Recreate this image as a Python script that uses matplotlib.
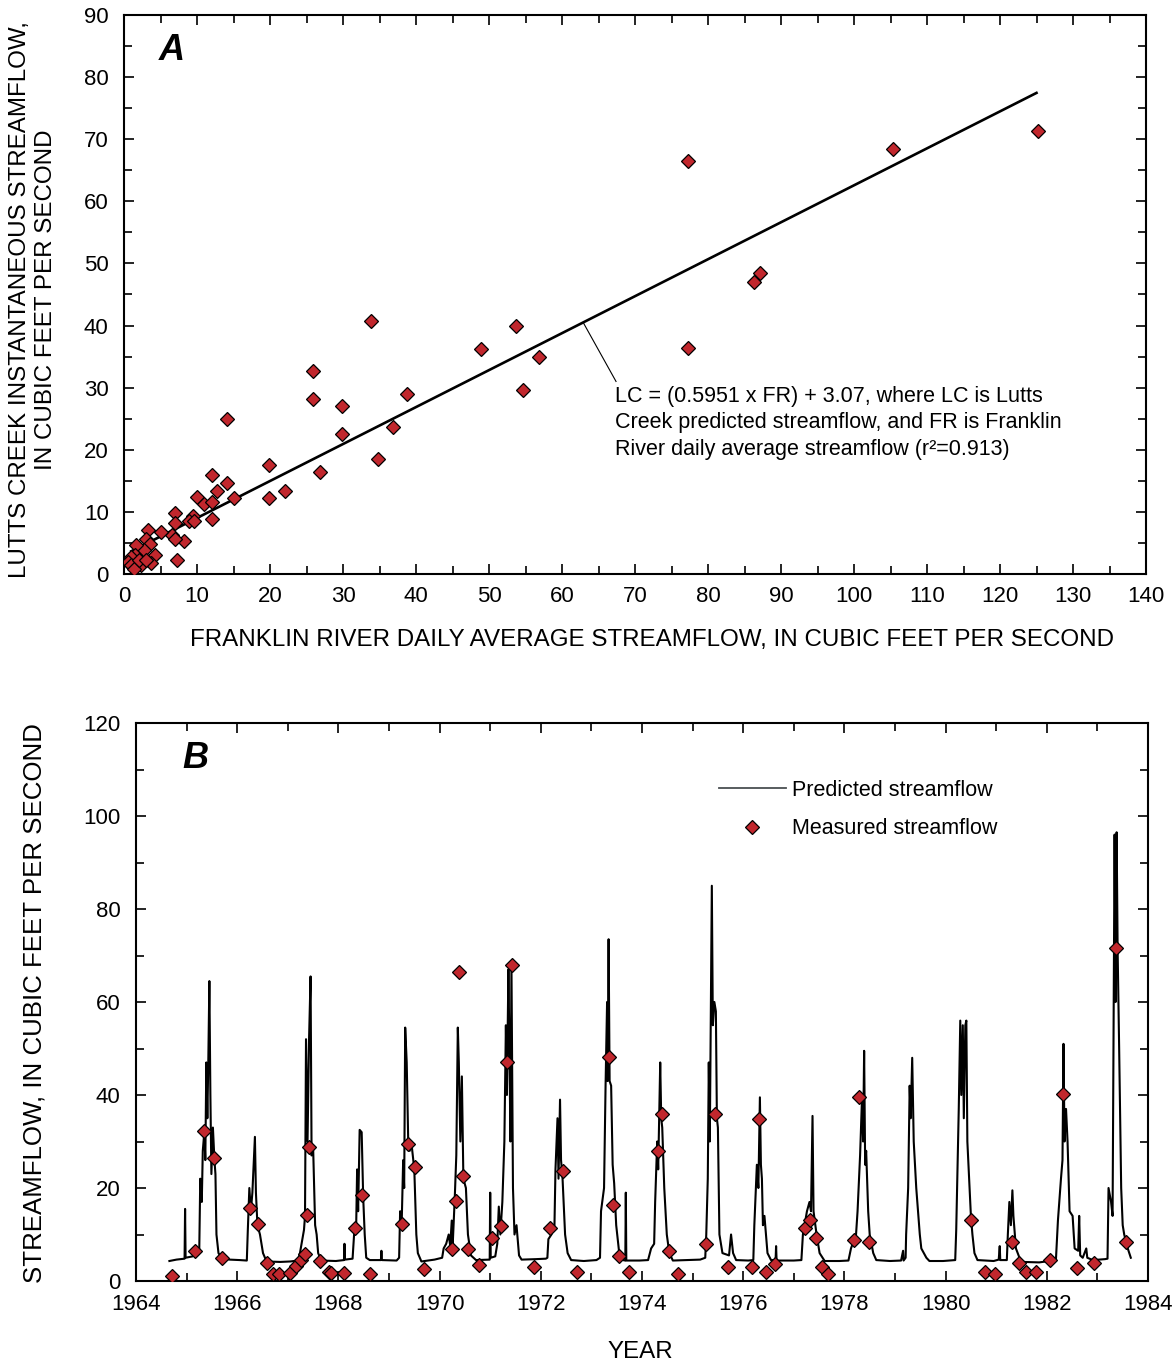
import matplotlib
matplotlib.use('Agg')
import matplotlib.pyplot as plt
from matplotlib.ticker import MultipleLocator
from matplotlib.lines import Line2D

plt.rcParams['font.family'] = ['Liberation Sans', 'DejaVu Sans']

RED = '#C1272D'

# ---- panel A: Franklin River daily mean vs Lutts Creek instantaneous (cfs)
scatter_pts = [
    (33.9, 40.8), (53.75, 40.0), (48.85, 36.3), (56.8, 34.9), (54.7, 29.7),
    (25.9, 32.7), (25.9, 28.2), (29.9, 27.1), (29.9, 22.6), (38.75, 28.9),
    (36.9, 23.7), (34.8, 18.5), (26.8, 16.4), (19.8, 17.5), (19.8, 12.3),
    (22.0, 13.4), (14.1, 24.9), (12.0, 16.0), (14.1, 14.6), (12.8, 13.4),
    (15.0, 12.3), (10.0, 12.4), (11.0, 11.2), (12.0, 11.6), (12.0, 8.9),
    (9.4, 9.4), (8.85, 8.6), (9.6, 8.5), (8.2, 5.3), (7.0, 9.8),
    (7.0, 8.2), (6.6, 6.2), (7.0, 5.7), (7.3, 2.3), (5.05, 6.8),
    (3.3, 7.1), (3.0, 5.6), (3.5, 4.9), (2.7, 3.8), (4.3, 3.0),
    (3.75, 1.7), (2.3, 1.5), (1.6, 4.6), (1.5, 3.1), (0.9, 2.7),
    (0.5, 1.9), (0.9, 1.5), (1.4, 0.8), (2.1, 2.2), (3.0, 2.2),
    (77.3, 66.5), (105.3, 68.4), (125.2, 71.3), (86.3, 47.0), (87.1, 48.5),
    (77.3, 36.4),
]
fit_slope = 0.5951
fit_icept = 3.07
fit_range = [1.0, 125.0]

flow_1965 = [(1964.66, 4.3), (1964.80, 4.6), (1964.96, 4.8), (1964.97, 15.5), (1964.98, 5.0),
             (1965.12, 5.3), (1965.25, 6.5), (1965.27, 22), (1965.30, 17), (1965.32, 28),
             (1965.35, 32), (1965.37, 26), (1965.39, 47), (1965.41, 35), (1965.43, 48),
             (1965.45, 64.5), (1965.47, 40), (1965.49, 23), (1965.52, 33), (1965.55, 26),
             (1965.57, 23), (1965.59, 10), (1965.63, 6), (1965.69, 5), (1965.85, 4.6)]
flow_1966 = [(1966.05, 4.5), (1966.19, 4.4), (1966.21, 11), (1966.24, 20), (1966.27, 15),
             (1966.30, 19), (1966.35, 31), (1966.37, 19), (1966.40, 12), (1966.45, 10),
             (1966.51, 6), (1966.58, 4.2), (1966.85, 4.1)]
flow_1967 = [(1967.05, 4.2), (1967.20, 4.4), (1967.24, 6), (1967.32, 11), (1967.34, 14),
             (1967.36, 52), (1967.39, 30), (1967.42, 52), (1967.45, 65.5), (1967.47, 27),
             (1967.50, 29), (1967.54, 12), (1967.57, 10), (1967.60, 6), (1967.66, 4.4),
             (1967.95, 4.3), (1968.11, 4.5), (1968.12, 8), (1968.13, 4.6)]
flow_1968 = [(1968.28, 4.8), (1968.31, 10), (1968.35, 11), (1968.37, 24), (1968.39, 15),
             (1968.42, 32.5), (1968.46, 32), (1968.49, 18), (1968.52, 10), (1968.55, 5),
             (1968.62, 4.5), (1968.84, 4.5), (1968.85, 6.5), (1968.86, 4.5), (1969.15, 4.4)]
flow_1969 = [(1969.20, 5), (1969.22, 15), (1969.25, 12), (1969.28, 26), (1969.30, 20),
             (1969.32, 54.5), (1969.35, 47), (1969.38, 30), (1969.41, 28), (1969.44, 30),
             (1969.50, 24), (1969.54, 10), (1969.57, 6), (1969.64, 4.2), (1969.90, 4.6)]
flow_1970 = [(1970.05, 5), (1970.08, 7), (1970.13, 8), (1970.18, 10), (1970.21, 7.5),
             (1970.24, 13), (1970.26, 8), (1970.30, 18), (1970.33, 27), (1970.36, 54.5),
             (1970.38, 47), (1970.41, 30), (1970.44, 44), (1970.47, 22), (1970.52, 20),
             (1970.56, 10), (1970.62, 5.5), (1970.72, 4.5), (1970.99, 4.6), (1971.00, 19),
             (1971.01, 5)]
flow_1971 = [(1971.10, 5.3), (1971.14, 8), (1971.17, 16), (1971.20, 10), (1971.24, 17),
             (1971.28, 30), (1971.31, 55), (1971.33, 40), (1971.36, 67), (1971.38, 50),
             (1971.40, 30), (1971.42, 68), (1971.45, 20), (1971.48, 10), (1971.52, 12),
             (1971.57, 5.5), (1971.62, 4.6), (1971.90, 4.7)]
flow_1972 = [(1972.10, 4.8), (1972.13, 5), (1972.15, 9), (1972.21, 10), (1972.27, 12),
             (1972.29, 24), (1972.33, 35), (1972.35, 22), (1972.38, 39), (1972.40, 26),
             (1972.43, 22), (1972.48, 10), (1972.53, 6), (1972.60, 4.5), (1972.85, 4.3)]
flow_1973 = [(1973.10, 4.5), (1973.17, 5), (1973.19, 15), (1973.25, 20), (1973.28, 42),
             (1973.31, 60), (1973.32, 43), (1973.34, 73.5), (1973.36, 43), (1973.39, 42),
             (1973.42, 25), (1973.45, 21), (1973.49, 12), (1973.55, 6), (1973.62, 4.5),
             (1973.67, 4.4), (1973.68, 19), (1973.69, 4.4), (1973.95, 4.4)]
flow_1974 = [(1974.12, 4.5), (1974.18, 7), (1974.24, 8), (1974.26, 17), (1974.30, 30),
             (1974.32, 24), (1974.36, 47), (1974.38, 35), (1974.40, 33), (1974.44, 20),
             (1974.49, 10), (1974.54, 6), (1974.61, 4.4), (1974.90, 4.5)]
flow_1975 = [(1975.15, 4.6), (1975.25, 5), (1975.27, 10), (1975.30, 22), (1975.32, 47),
             (1975.34, 30), (1975.38, 85), (1975.40, 55), (1975.43, 60), (1975.46, 58),
             (1975.48, 35), (1975.50, 33), (1975.53, 10), (1975.59, 6), (1975.72, 5.5),
             (1975.76, 10), (1975.80, 6), (1975.86, 4.5), (1976.10, 4.4)]
flow_1976 = [(1976.20, 4.5), (1976.22, 12), (1976.27, 25), (1976.30, 20), (1976.33, 39.5),
             (1976.35, 25), (1976.37, 22), (1976.39, 12), (1976.42, 14), (1976.48, 6),
             (1976.55, 4.5), (1976.64, 4.5), (1976.65, 7.5), (1976.66, 4.4), (1977.00, 4.4)]
flow_1977 = [(1977.15, 4.5), (1977.18, 10), (1977.26, 15), (1977.31, 17), (1977.34, 15),
             (1977.37, 35.5), (1977.39, 15), (1977.45, 10), (1977.51, 6), (1977.61, 4.3),
             (1977.90, 4.3)]
flow_1978 = [(1978.08, 4.4), (1978.13, 7), (1978.23, 10), (1978.26, 15), (1978.31, 27),
             (1978.35, 40), (1978.37, 30), (1978.39, 49.5), (1978.41, 25), (1978.43, 28),
             (1978.47, 15), (1978.50, 10), (1978.57, 6), (1978.63, 4.5), (1978.90, 4.3)]
flow_1979 = [(1979.12, 4.4), (1979.16, 6.5), (1979.17, 4.4), (1979.21, 5), (1979.22, 10),
             (1979.26, 20), (1979.29, 42), (1979.31, 35), (1979.34, 48), (1979.37, 30),
             (1979.42, 20), (1979.49, 10), (1979.52, 7), (1979.62, 5), (1979.68, 4.3),
             (1979.95, 4.3)]
flow_1980 = [(1980.19, 4.5), (1980.21, 11), (1980.26, 37), (1980.29, 56), (1980.31, 40),
             (1980.34, 55), (1980.36, 35), (1980.39, 55), (1980.41, 56), (1980.43, 30),
             (1980.50, 14), (1980.53, 10), (1980.57, 6), (1980.63, 4.5), (1980.95, 4.3),
             (1981.05, 4.6), (1981.07, 7.5), (1981.08, 4.5)]
flow_1981 = [(1981.21, 4.5), (1981.23, 10), (1981.26, 17), (1981.29, 12), (1981.32, 19.5),
             (1981.34, 14), (1981.39, 7), (1981.46, 5), (1981.53, 4.1), (1981.85, 4.0)]
flow_1982 = [(1982.18, 4.5), (1982.22, 13), (1982.28, 22), (1982.31, 26), (1982.33, 51),
             (1982.35, 30), (1982.38, 37), (1982.41, 30), (1982.45, 15), (1982.51, 14),
             (1982.55, 7), (1982.62, 6.5), (1982.64, 14), (1982.66, 5.5), (1982.71, 5),
             (1982.78, 7), (1982.80, 5), (1982.91, 4.5), (1983.15, 4.7)]
flow_1983 = [(1983.20, 4.8), (1983.22, 20), (1983.27, 17), (1983.30, 14), (1983.32, 55),
             (1983.34, 96), (1983.36, 60), (1983.38, 96.5), (1983.40, 71), (1983.43, 50),
             (1983.47, 20), (1983.50, 12), (1983.53, 10), (1983.60, 7), (1983.66, 5)]

measured = [
    (1964.72, 1.1), (1965.16, 6.4), (1965.35, 32.3), (1965.55, 26.4), (1965.69, 5.0),
    (1966.26, 15.7), (1966.41, 12.3), (1966.59, 3.9), (1966.71, 1.4), (1966.83, 1.4),
    (1967.05, 1.8), (1967.16, 3.2), (1967.26, 4.6), (1967.34, 5.9), (1967.37, 14.3),
    (1967.41, 28.9), (1967.64, 4.4), (1967.81, 1.9), (1967.85, 1.8), (1968.12, 1.8),
    (1968.32, 11.3), (1968.47, 18.6), (1968.62, 1.4), (1969.26, 12.3), (1969.38, 29.4),
    (1969.51, 24.5), (1969.70, 2.6), (1970.24, 6.8), (1970.33, 17.1), (1970.38, 66.5),
    (1970.47, 22.6), (1970.57, 6.8), (1970.77, 3.4), (1971.04, 9.3), (1971.22, 11.8),
    (1971.34, 47.1), (1971.43, 68.0), (1971.86, 3.1), (1972.19, 11.3), (1972.44, 23.6),
    (1972.71, 2.0), (1973.34, 48.1), (1973.43, 16.3), (1973.54, 5.4), (1973.74, 2.0),
    (1974.31, 28.0), (1974.39, 35.9), (1974.53, 6.4), (1974.72, 1.4), (1975.26, 7.9),
    (1975.45, 35.9), (1975.69, 3.1), (1976.17, 3.1), (1976.32, 34.9), (1976.45, 2.0),
    (1976.62, 3.6), (1977.22, 11.4), (1977.32, 13.2), (1977.43, 9.3), (1977.55, 3.1),
    (1977.67, 1.4), (1978.19, 8.9), (1978.28, 39.6), (1978.48, 8.4), (1980.51, 13.2),
    (1980.78, 2.0), (1980.97, 1.4), (1981.31, 8.4), (1981.46, 3.9), (1981.59, 2.0),
    (1981.79, 2.0), (1982.07, 4.5), (1982.33, 40.2), (1982.60, 2.9), (1982.94, 3.9),
    (1983.37, 71.6), (1983.57, 8.4),
]

pred = (flow_1965 + flow_1966 + flow_1967 + flow_1968 + flow_1969 + flow_1970 +
        flow_1971 + flow_1972 + flow_1973 + flow_1974 + flow_1975 + flow_1976 +
        flow_1977 + flow_1978 + flow_1979 + flow_1980 + flow_1981 + flow_1982 +
        flow_1983)


def style_axis(ax, xmaj, xmin, ymaj, ymin):
    ax.xaxis.set_major_locator(MultipleLocator(xmaj))
    ax.xaxis.set_minor_locator(MultipleLocator(xmin))
    ax.yaxis.set_major_locator(MultipleLocator(ymaj))
    ax.yaxis.set_minor_locator(MultipleLocator(ymin))
    ax.tick_params(which='both', direction='in', top=True, right=True, width=1.2)
    ax.tick_params(which='major', length=7)
    ax.tick_params(which='minor', length=5.5)
    ax.tick_params(axis='x', pad=9, labelsize=16)
    ax.tick_params(axis='y', pad=11, labelsize=16)
    for s in ax.spines.values():
        s.set_linewidth(1.5)


W, H = 1173, 1368
fig = plt.figure(figsize=(W / 100, H / 100), dpi=100)
axA = fig.add_axes([124 / W, 1 - 574 / H, (1146 - 124) / W, (574 - 15) / H])
axB = fig.add_axes([136 / W, 1 - 1281 / H, (1148 - 136) / W, (1281 - 723) / H])

# panel A
fr = [p[0] for p in scatter_pts]
lc = [p[1] for p in scatter_pts]
fit_y = [fit_slope * x + fit_icept for x in fit_range]
axA.plot(fit_range, fit_y, color='black', lw=1.9, zorder=2)
axA.plot(fr, lc, ls='none', marker='D', ms=7.3, mfc=RED, mec='black', mew=0.9, zorder=3)
axA.set_xlim(0, 140)
axA.set_ylim(0, 90)
style_axis(axA, 10, 5, 10, 5)

lead_x = 62.9
axA.plot([lead_x, 67.4], [fit_slope * lead_x + fit_icept, 31.0], color='black', lw=0.8)
axA.text(67.3, 30.3,
         'LC = (0.5951 x FR) + 3.07, where LC is Lutts\n'
         'Creek predicted streamflow, and FR is Franklin\n'
         'River daily average streamflow (r\u00b2=0.913)',
         fontsize=15.5, va='top', ha='left', linespacing=1.35)
axA.text(0.047, 0.937, 'A', transform=axA.transAxes, fontsize=26,
         fontweight='bold', style='italic', ha='center', va='center')

fig.text(33 / W, 1 - 300 / H,
         'LUTTS CREEK INSTANTANEOUS STREAMFLOW,\nIN CUBIC FEET PER SECOND',
         rotation=90, ha='center', va='center', fontsize=17.4,
         multialignment='center', linespacing=1.2)
fig.text(652 / W, 1 - 640 / H,
         'FRANKLIN RIVER DAILY AVERAGE STREAMFLOW, IN CUBIC FEET PER SECOND',
         ha='center', va='center', fontsize=17.4)

# panel B
axB.plot([p[0] for p in pred], [p[1] for p in pred], color='black', lw=1.5, zorder=2)
axB.plot([m[0] for m in measured], [m[1] for m in measured], ls='none', marker='D',
         ms=7.3, mfc=RED, mec='black', mew=0.9, zorder=3)
axB.set_xlim(1964, 1984)
axB.set_ylim(0, 120)
style_axis(axB, 2, 1, 20, 10)
axB.text(0.059, 0.937, 'B', transform=axB.transAxes, fontsize=26,
         fontweight='bold', style='italic', ha='center', va='center')

handles = [
    Line2D([], [], color='#4a4f52', lw=1.3),
    Line2D([], [], ls='none', marker='D', ms=7, mfc=RED, mec='black', mew=0.9),
]
axB.legend(handles, ['Predicted streamflow', 'Measured streamflow'],
           loc='upper left', bbox_to_anchor=(0.576, 0.898), frameon=False,
           fontsize=15.5, handlelength=3.1, handletextpad=0.3,
           labelspacing=0.8, borderpad=0, borderaxespad=0)

fig.text(35 / W, 1 - 1003 / H, 'STREAMFLOW, IN CUBIC FEET PER SECOND',
         rotation=90, ha='center', va='center', fontsize=18.6)
fig.text(640 / W, 1 - 1352 / H, 'YEAR', ha='center', va='center', fontsize=17.4)

fig.savefig('out.png', dpi=100)
